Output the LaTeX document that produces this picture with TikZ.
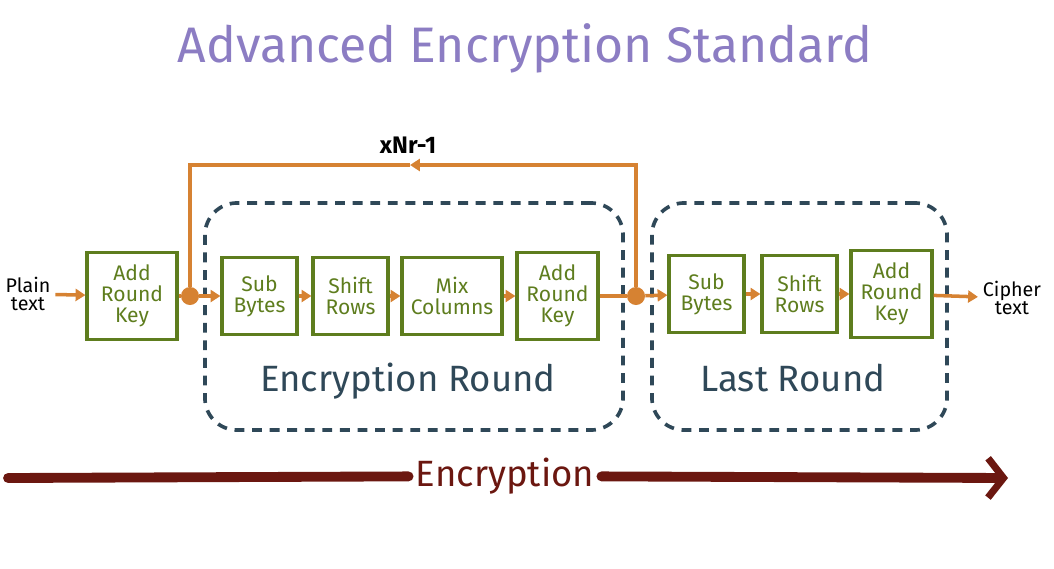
\documentclass[tikz,border=0pt]{standalone}
\usepackage{fontspec}
\setmainfont{Fira Sans}
\usetikzlibrary{
    arrows.meta,
    positioning
}
\definecolor{boxgreen}{HTML}{5E7D1E}
\definecolor{flow}{HTML}{D68232}
\definecolor{roundblue}{HTML}{2F4858}
\definecolor{encred}{HTML}{6B1710}
\definecolor{titlepurple}{HTML}{8C7DC3}

\begin{document}
\begin{tikzpicture}[
        x=0.025cm, y=-0.025cm,
        block/.style={draw=boxgreen, line width=2.2pt, text=boxgreen, minimum width=1.875cm,
                      minimum height=1.925cm, align=center, inner sep=1pt,
                      font=\fontsize{15}{15}\selectfont},
        round/.style={draw=roundblue, line width=2.6pt, dash pattern=on 7pt off 5.5pt,
                      rounded corners=0.8cm, minimum height=5.675cm},
        rlabel/.style={text=roundblue, font=\fontsize{26}{28}\selectfont},
        io/.style={align=center, font=\fontsize{14}{12.5}\selectfont},
        dot/.style={circle, fill=flow, inner sep=0pt, minimum size=0.45cm},
        line/.style={draw=flow, line width=2.5pt},
        arr/.style={line, -{Triangle[length=7pt, width=8.5pt]}},
        bigline/.style={draw=encred, line width=7pt, line cap=round},
    ]
        \useasboundingbox (0,0) rectangle (1054,568);

        % Title
        \node[text=titlepurple, font=\fontsize{35.5}{36}\selectfont] (title) at (525,48) {Advanced Encryption Standard};

        % Input and initial key
        \node[io] (plain) at (28,294) {Plain\\text};
        \node[block, minimum width=2.25cm, minimum height=2.175cm] (ark0) at (132,296) {Add\\Round\\Key};
        \node[dot] (dot1) at (190,296) {};

        % Encryption Round
        \node[round, minimum width=10.45cm] (encround) at (414,316.5) {};
        \node[rlabel] at (408,381) {Encryption Round};
        \node[block] (sb1) at (259.5,296) {Sub\\Bytes};
        \node[block] (sr1) at (350.5,296) {Shift\\Rows};
        \node[block, minimum width=2.5cm] (mc1) at (452,296) {Mix\\Columns};
        \node[block, minimum width=2.025cm, minimum height=2.175cm] (ark1) at (557.5,296) {Add\\Round\\Key};
        \node[dot] (dot2) at (636,296) {};

        % Last Round
        \node[round, minimum width=7.375cm] (lastround) at (799.5,316.5) {};
        \node[rlabel] at (793,378) {Last Round};
        \node[block] (sb2) at (706.5,294) {Sub\\Bytes};
        \node[block] (sr2) at (799.5,294) {Shift\\Rows};
        \node[block, minimum width=2.025cm, minimum height=2.175cm] (ark2) at (891.5,294) {Add\\Round\\Key};
        \node[io] (cipher) at (1012,298) {Cipher\\text};

        % Arrows along the rounds
        \draw[arr] (plain) -- (ark0);
        \draw[line] (ark0) -- (dot1);
        \draw[arr] (dot1) -- (sb1);
        \draw[arr] (sb1) -- (sr1);
        \draw[arr] (sr1) -- (mc1);
        \draw[arr] (mc1) -- (ark1);
        \draw[line] (ark1) -- (dot2);
        \draw[arr] (dot2) -- (sb2);
        \draw[arr] (sb2) -- (sr2);
        \draw[arr] (sr2) -- (ark2);
        \draw[arr] (ark2) -- (cipher);

        % Loop back
        \coordinate (back) at (410,165);
        \node[font=\fontsize{17}{18}\selectfont\bfseries] (times) at (408,145) {xNr-1};
        \draw[arr] (dot2) |- (back);
        \draw[line] (back) -| (dot1);

        % Encryption arrow
        \coordinate (encstart) at (8,478);
        \coordinate (encend) at (1008,478);
        \node[text=encred, inner sep=5pt, font=\fontsize{26}{28}\selectfont] (encname) at (505,476) {Encryption};
        \draw[bigline] (encstart) -- (encname);
        \draw[bigline, line join=round, -{Straight Barb[length=11pt, width=28pt, line width=5pt]}] (encname) -- (encend);
    \end{tikzpicture}
\end{document}
